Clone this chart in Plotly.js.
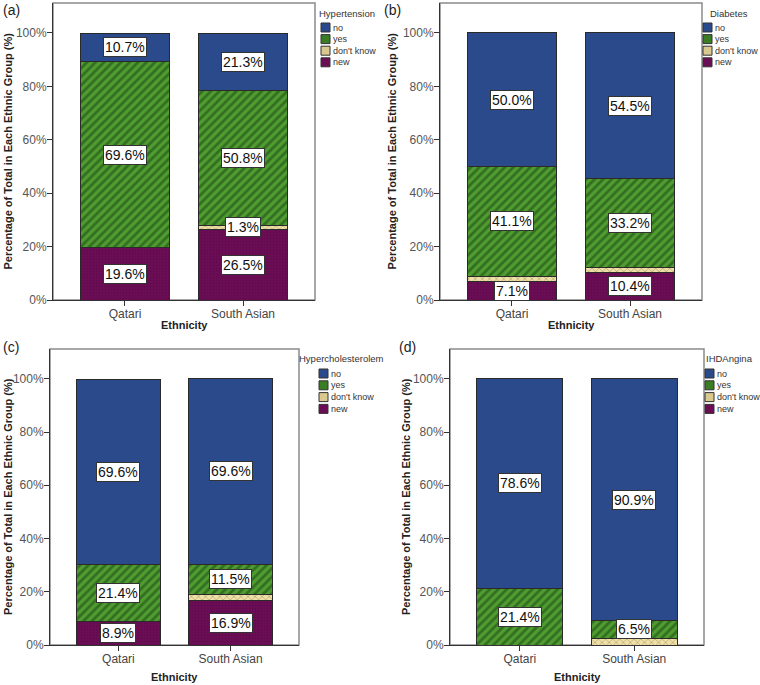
<!DOCTYPE html>
<html><head><meta charset="utf-8">
<script src="https://cdn.plot.ly/plotly-3.0.1.min.js"></script>
<style>html,body{margin:0;padding:0;background:#fff}#chart{width:760px;height:685px}</style>
</head><body><div id="chart"></div>
<script>
// ---- data ----
const ethnicities = ['Qatari', 'South Asian'];
const categories = ['new', "don't know", 'yes', 'no']; // stacked bottom -> top
const legendOrder = ['no', 'yes', "don't know", 'new'];
const panelNames = ['Hypertension', 'Diabetes', 'Hypercholesterolem', 'IHDAngina'];
const panelLetters = ['(a)', '(b)', '(c)', '(d)'];
const xTitle = 'Ethnicity';
const yTitle = 'Percentage of Total in Each Ethnic Group (%)';

const hypertensionNew = [19.6, 26.5];
const hypertensionDontKnow = [0, 1.3];
const hypertensionYes = [69.6, 50.8];
const hypertensionNo = [10.7, 21.3];

const diabetesNew = [7.1, 10.4];
const diabetesDontKnow = [1.8, 1.9];
const diabetesYes = [41.1, 33.2];
const diabetesNo = [50.0, 54.5];

const cholesterolNew = [8.9, 16.9];
const cholesterolDontKnow = [0, 2.0];
const cholesterolYes = [21.4, 11.5];
const cholesterolNo = [69.6, 69.6];

const anginaNew = [0, 0];
const anginaDontKnow = [0, 2.6];
const anginaYes = [21.4, 6.5];
const anginaNo = [78.6, 90.9];

const dontKnowLabelShown = [true, false, false, false];

const yTickVals = [0, 20, 40, 60, 80, 100];
const yTickText = ['0%', '20%', '40%', '60%', '80%', '100%'];

// ---- build ----
const panelValues = [
  [hypertensionNew, hypertensionDontKnow, hypertensionYes, hypertensionNo],
  [diabetesNew, diabetesDontKnow, diabetesYes, diabetesNo],
  [cholesterolNew, cholesterolDontKnow, cholesterolYes, cholesterolNo],
  [anginaNew, anginaDontKnow, anginaYes, anginaNo]
];

const W = 760, H = 685;
const panelBoxes = [ // plot frame in px: [left, right, top, bottom]
  [53, 315, 3, 300],
  [440, 702, 3, 300],
  [50, 299, 349, 645],
  [450, 704, 349, 645]
];
// legend: [swatch left x, title centre x, title y, first item y, item step]
const legendGeo = [
  [321, 347, 13, 27.5, 11.6],
  [703, 729, 13, 27.5, 11.6],
  [319, 341, 358, 373.5, 11.8],
  [705, 729, 358, 373.5, 11.8]
];
const letterPos = [[1, 10], [382, 10], [1, 347], [397, 347]];
const yTitleX = [8, 392, 8, 406];
const xTitleY = [325, 325, 677, 677];

const styles = {
  'new': {color: '#6a0d54', pattern: {shape: '.', fgcolor: '#520641', bgcolor: '#6a0d54', size: 3, solidity: 0.2, fillmode: 'overlay'}},
  "don't know": {color: '#efe0a8', pattern: {shape: 'x', fgcolor: '#7a6638', bgcolor: '#efe0a8', size: 5, solidity: 0.25, fillmode: 'overlay'}},
  'yes': {color: '#4f9c30', pattern: {shape: '/', fgcolor: '#173d10', bgcolor: '#4f9c30', size: 6, solidity: 0.45, fillmode: 'overlay'}},
  'no': {color: '#2b4a8b', pattern: {shape: ''}}
};
const swatchFill = {'new': '#6a0d54', "don't know": '#d9c98e', 'yes': '#3b7d24', 'no': '#2b4a8b'};

const FONT = 'Liberation Sans, Arial, sans-serif';
const NARROW = 'Liberation Sans Narrow, Liberation Sans, Arial, sans-serif';

const traces = [];
const annotations = [];
const shapes = [];
const layout = {
  width: W, height: H,
  margin: {l: 0, r: 0, t: 0, b: 0},
  paper_bgcolor: '#fff', plot_bgcolor: '#fff',
  barmode: 'stack',
  bargap: 0.245,
  showlegend: false,
  font: {family: FONT, color: '#333'}
};

panelValues.forEach((vals, p) => {
  const s = p === 0 ? '' : String(p + 1);
  const [L, R, T, B] = panelBoxes[p];
  categories.forEach((cat, c) => {
    traces.push({
      type: 'bar',
      x: ethnicities,
      y: vals[c],
      name: cat,
      xaxis: 'x' + s,
      yaxis: 'y' + s,
      marker: {color: styles[cat].color, pattern: styles[cat].pattern, line: {color: '#2a2a2a', width: 1}},
      hoverinfo: 'skip'
    });
  });
  layout['xaxis' + s] = {
    domain: [L / W, R / W],
    anchor: 'y' + s,
    range: [-0.61, 1.61],
    showline: true, linecolor: '#333', linewidth: 1,
    ticks: 'outside', ticklen: 5, tickcolor: '#333',
    ticklabelstandoff: -2,
    tickfont: {family: FONT, size: 12, color: '#444'},
    showgrid: false, zeroline: false, fixedrange: true
  };
  layout['yaxis' + s] = {
    domain: [1 - B / H, 1 - T / H],
    anchor: 'x' + s,
    range: [0, 111.2],
    tickvals: yTickVals, ticktext: yTickText,
    showline: true, linecolor: '#333', linewidth: 1,
    ticks: 'outside', ticklen: 5, tickcolor: '#333',
    ticklabelstandoff: -2,
    tickfont: {family: FONT, size: 12, color: '#555'},
    showgrid: false, zeroline: false, fixedrange: true
  };
  shapes.push({
    type: 'rect', xref: 'x' + s + ' domain', yref: 'y' + s + ' domain',
    x0: 0, x1: 1, y0: 0, y1: 1, line: {color: '#8a8a8a', width: 1.5}, layer: 'below'
  });
  // axis titles
  annotations.push({
    xref: 'paper', yref: 'paper', x: yTitleX[p] / W, y: 1 - ((T + B) / 2) / H,
    xanchor: 'center', yanchor: 'middle', textangle: -90, showarrow: false,
    text: '<b>' + yTitle + '</b>', font: {family: FONT, size: 11, color: '#222'}
  });
  annotations.push({
    xref: 'paper', yref: 'paper', x: ((L + R) / 2) / W, y: 1 - xTitleY[p] / H,
    xanchor: 'center', yanchor: 'middle', showarrow: false,
    text: '<b>' + xTitle + '</b>', font: {family: FONT, size: 11, color: '#222'}
  });
  // panel letter
  annotations.push({
    xref: 'paper', yref: 'paper', x: letterPos[p][0] / W, y: 1 - letterPos[p][1] / H,
    xanchor: 'left', yanchor: 'middle', showarrow: false,
    text: panelLetters[p], font: {family: FONT, size: 14, color: '#222'}
  });
  // legend
  const [lx, tcx, ty, iy, step] = legendGeo[p];
  annotations.push({
    xref: 'paper', yref: 'paper', x: tcx / W, y: 1 - ty / H,
    xanchor: 'center', yanchor: 'middle', showarrow: false,
    text: panelNames[p], font: {family: NARROW, size: 9.5, color: '#333'}
  });
  legendOrder.forEach((cat, k) => {
    const cy = iy + k * step;
    shapes.push({
      type: 'rect', xref: 'paper', yref: 'paper',
      x0: lx / W, x1: (lx + 9) / W, y0: 1 - (cy + 4.5) / H, y1: 1 - (cy - 4.5) / H,
      fillcolor: swatchFill[cat], line: {color: '#333', width: 1}
    });
    annotations.push({
      xref: 'paper', yref: 'paper', x: (lx + 9.5) / W, y: 1 - cy / H,
      xanchor: 'left', yanchor: 'middle', showarrow: false,
      text: cat, font: {family: NARROW, size: 9, color: '#333'}
    });
  });
  // value labels
  ethnicities.forEach((eth, i) => {
    let cum = 0;
    categories.forEach((cat, c) => {
      const v = vals[c][i];
      const show = v > 0 && (cat !== "don't know" || dontKnowLabelShown[p]);
      if (show) {
        annotations.push({
          xref: 'x' + s, yref: 'y' + s, x: eth, y: cum + v / 2,
          text: v.toFixed(1) + '%', showarrow: false,
          font: {family: FONT, size: 14, color: '#111'},
          bgcolor: '#fff', bordercolor: '#333', borderwidth: 1, borderpad: 1
        });
      }
      cum += v;
    });
  });
});

layout.annotations = annotations;
layout.shapes = shapes;

Plotly.newPlot('chart', traces, layout, {displayModeBar: false, staticPlot: true});
</script>
</body></html>
